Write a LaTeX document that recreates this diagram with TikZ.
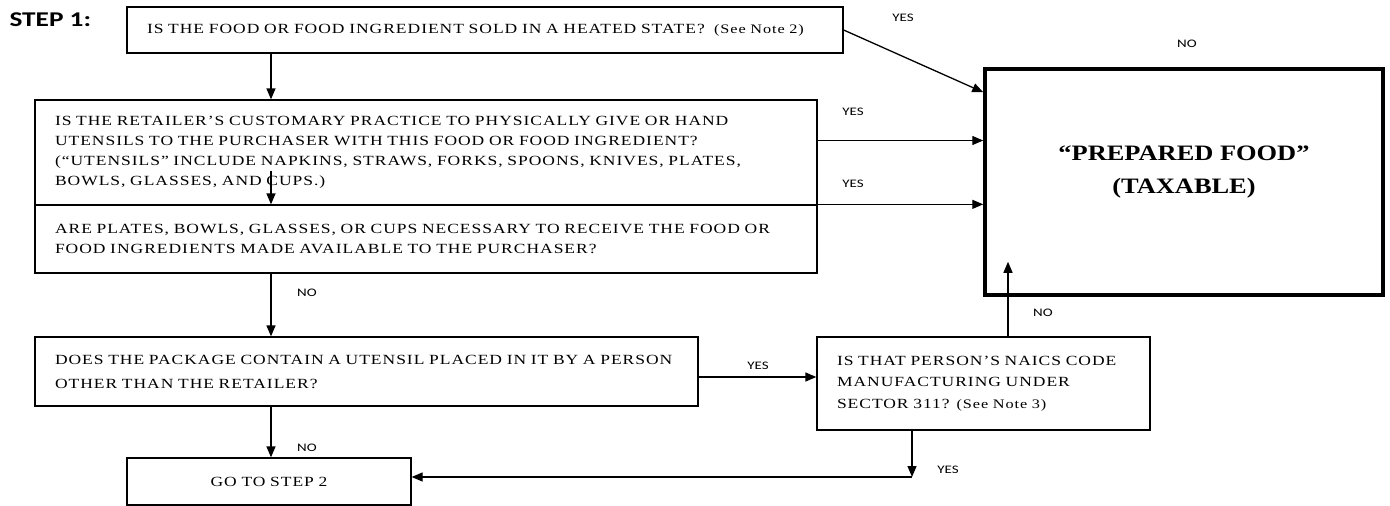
\documentclass[tikz,border=0pt]{standalone}
\usepackage{fontspec}
\setmainfont{Liberation Serif}
\newfontfamily\labfont[FakeStretch=1.3]{Carlito}
\newfontfamily\qfont[FakeStretch=1.25,LetterSpace=7]{Liberation Serif}
\newfontfamily\bigfont[FakeStretch=1.2]{Liberation Serif}
\usetikzlibrary{arrows.meta}
\begin{document}
\begin{tikzpicture}[x=1pt,y=-1pt,
    qbox/.style={draw,line width=1.3pt,rectangle,inner xsep=20pt,inner ysep=0pt,align=left,
      font=\qfont\fontsize{14}{20}\selectfont},
    ans/.style={font=\labfont\fontsize{11.5}{12}\selectfont},
    arr/.style={line width=1.3pt,-{Triangle[length=11pt,width=9pt]}}]
  \useasboundingbox (0,0) rectangle (1390,506);
  % questions
  \node[qbox,minimum width=716pt,minimum height=46pt,text width=676pt] (heat) at (485,30)
    {IS THE FOOD OR FOOD INGREDIENT SOLD IN A HEATED STATE?\ \ {\fontsize{13}{14}\selectfont(See Note 2)}};
  \node[qbox,minimum width=782pt,minimum height=105pt,text width=742pt] (hand) at (426,152.5)
    {IS THE RETAILER’S CUSTOMARY PRACTICE TO PHYSICALLY GIVE OR HAND\\
     UTENSILS TO THE PURCHASER WITH THIS FOOD OR FOOD INGREDIENT?\\
     (“UTENSILS” INCLUDE NAPKINS, STRAWS, FORKS, SPOONS, KNIVES, PLATES,\\
     BOWLS, GLASSES, AND CUPS.)};
  \node[qbox,minimum width=782pt,minimum height=68pt,text width=742pt] (plate) at (426,239)
    {ARE PLATES, BOWLS, GLASSES, OR CUPS NECESSARY TO RECEIVE THE FOOD OR\\
     FOOD INGREDIENTS MADE AVAILABLE TO THE PURCHASER?};
  \node[qbox,minimum width=663pt,minimum height=69pt,text width=623pt] (pack) at (366.5,371.5)
    {DOES THE PACKAGE CONTAIN A UTENSIL PLACED IN IT BY A PERSON\\[4pt]
     OTHER THAN THE RETAILER?};
  \node[qbox,minimum width=333pt,minimum height=93pt,text width=293pt] (naics) at (983.5,383.5)
    {IS THAT PERSON’S NAICS CODE\\[1.5pt]
     MANUFACTURING UNDER\\[1.5pt]
     SECTOR 311? {\fontsize{13}{14}\selectfont(See Note 3)}};
  \node[qbox,align=center,minimum width=284pt,minimum height=47pt,text width=244pt] (go) at (269,481.5)
    {GO TO STEP 2};
  \node[draw,line width=3.5pt,minimum width=398pt,minimum height=226pt] (prep) at (1184,182) {};
  \node[align=center,font=\bigfont\bfseries\fontsize{22}{33}\selectfont] (preptxt)
    at ([yshift=10pt]prep.center) {“PREPARED FOOD”\\(TAXABLE)};
  \node[font=\labfont\bfseries\fontsize{21}{22}\selectfont,anchor=west] (step) at (6,20) {STEP 1:};
  % helper columns
  \coordinate (col) at (271,0);
  \coordinate (upcol) at (1008,0);
  \coordinate (turn) at (912,477);
  \coordinate (pk) at (0,377);
  % connectors
  \draw[arr] (heat.south -| col) -- (hand.north -| col);
  \draw[arr] ([yshift=35pt]hand.south -| col) -- (plate.north -| col);
  \draw[arr] (plate.south -| col) -- (pack.north -| col);
  \draw[arr] (pack.south -| col) -- (go.north -| col);
  \draw[arr] (heat.east) -- ([yshift=-25pt]prep.north west);
  \draw[arr] ([yshift=12pt]hand.east) -- ([yshift=12pt]hand.east -| prep.west);
  \draw[arr] (plate.north east) -- (plate.north east -| prep.west);
  \draw[arr] (pack.east |- pk) -- (naics.west |- pk);
  \draw[arr] (naics.north -| upcol) -- ([yshift=35pt]prep.south -| upcol);
  \draw[arr] (naics.south -| turn) -- (turn);
  \draw[arr] (turn) -- (turn -| go.east);
  % answers
  \node[ans] (y1) at (903,18) {YES};
  \node[ans] (n0) at (1187,44) {NO};
  \node[ans] (y2) at (853,112) {YES};
  \node[ans] (y3) at (853,184) {YES};
  \node[ans] (n1) at (307,293) {NO};
  \node[ans] (n2) at (1043,313) {NO};
  \node[ans] (y4) at (758,366) {YES};
  \node[ans] (n3) at (307,448) {NO};
  \node[ans] (y5) at (948,470) {YES};
\end{tikzpicture}
\end{document}
